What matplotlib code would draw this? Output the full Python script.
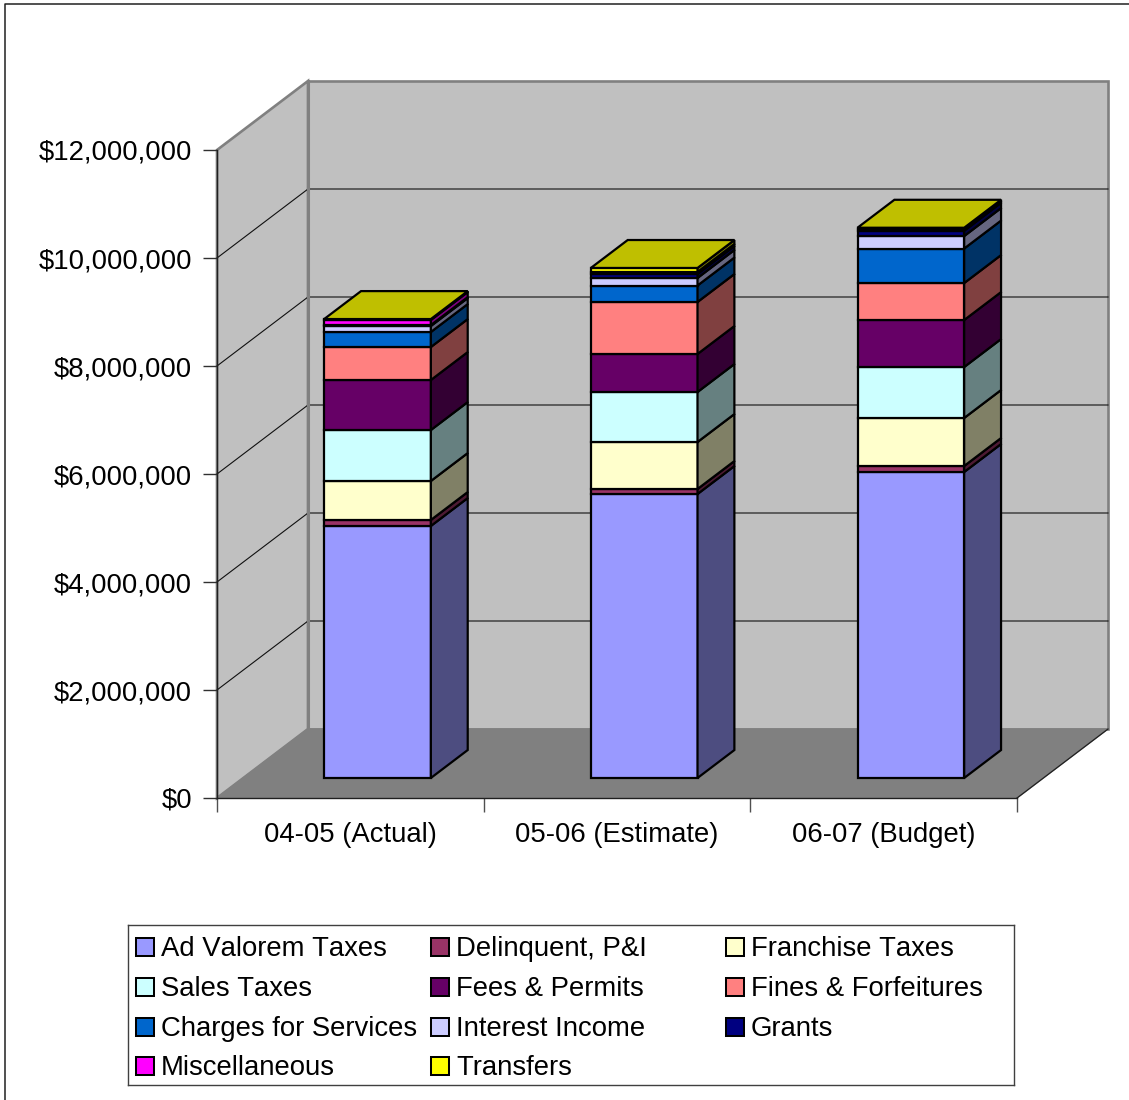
"""Stacked 3D-look revenue columns by fiscal year, with oblique walls and floor."""
import matplotlib

matplotlib.use("Agg")  # headless
import matplotlib.pyplot as plt
from matplotlib.lines import Line2D
from matplotlib.patches import Polygon, Rectangle
from matplotlib.ticker import FuncFormatter, MultipleLocator

plt.rcParams["font.family"] = ["Liberation Sans", "DejaVu Sans"]
plt.rcParams["text.kerning_factor"] = 20  # the original text is set without kerning

YEARS = ["04-05 (Actual)", "05-06 (Estimate)", "06-07 (Budget)"]
SOURCES = [
    "Ad Valorem Taxes", "Delinquent, P&I", "Franchise Taxes", "Sales Taxes",
    "Fees & Permits", "Fines & Forfeitures", "Charges for Services",
    "Interest Income", "Grants", "Miscellaneous", "Transfers",
]
COLORS = [
    "#9999FF", "#993366", "#FFFFCC", "#CCFFFF", "#660066", "#FF8080",
    "#0066CC", "#CCCCFF", "#000080", "#FF00FF", "#FFFF00",
]
# One list per year, same order as SOURCES.
ACTUAL_0405 = [4667000, 111000, 722000, 944000, 926000, 611000, 278000, 111000, 18000, 93000, 18000]
ESTIMATE_0506 = [5259000, 93000, 870000, 926000, 704000, 963000, 305000, 140000, 74000, 37000, 74000]
BUDGET_0607 = [5667000, 111000, 889000, 944000, 870000, 685000, 639000, 231000, 98000, 28000, 28000]

W, H = 1129, 1100
TEXT_SIZE = 19.8
WALL = "#C0C0C0"
FLOOR = "#808080"

# Front plane of the box in pixels; the depth axis runs up and to the right.
LEFT, RIGHT, TOP, BOTTOM = 217, 1017, 150, 798
DEPTH_X = 91 / ((RIGHT - LEFT) / 3)  # categories per full depth
DEPTH_Y = 69 / ((BOTTOM - TOP) / 12e6)  # dollars per full depth

BAR_GAP = 0.303
BAR_WIDTH = 0.4
BAR_NEAR = 0.29
BAR_FAR = 0.695


def oblique(x, value, depth):
    return x + depth * DEPTH_X, value + depth * DEPTH_Y


def shade(color, factor):
    rgb = matplotlib.colors.to_rgb(color)
    return tuple(c * factor for c in rgb)


def face(ax, corners, color, edge="black", lw=1.6, z=3):
    ax.add_patch(Polygon(corners, closed=True, facecolor=color, edgecolor=edge,
                         linewidth=lw, joinstyle="miter", clip_on=False, zorder=z))


def draw_box(ax):
    ymax = 12e6
    face(ax, [oblique(0, 0, 1), oblique(3, 0, 1), oblique(3, ymax, 1), oblique(0, ymax, 1)],
         WALL, edge=FLOOR, lw=1.9, z=1)
    face(ax, [oblique(0, 0, 0), oblique(0, 0, 1), oblique(0, ymax, 1), oblique(0, ymax, 0)],
         WALL, edge=FLOOR, lw=1.9, z=1)
    face(ax, [oblique(0, 0, 0), oblique(3, 0, 0), oblique(3, 0, 1), oblique(0, 0, 1)],
         FLOOR, edge=FLOOR, lw=1, z=1.1)
    for v in range(2000000, 12000000, 2000000):
        corner = oblique(0, v, 1)
        end = oblique(3, v, 1)
        start = oblique(0, v, 0)
        ax.add_line(Line2D([start[0], corner[0], end[0]], [start[1], corner[1], end[1]],
                           color="#101010", lw=0.8, clip_on=False, zorder=1.2))
    # the back-left corner sits over the grid lines
    xs, ys = zip(oblique(0, 0, 1), oblique(0, ymax, 1))
    ax.add_line(Line2D(xs, ys, color=FLOOR, lw=2.2, clip_on=False, zorder=1.3))
    xs, ys = zip(oblique(3, 0, 0), oblique(3, 0, 1))
    ax.add_line(Line2D(xs, ys, color="#202020", lw=0.9, clip_on=False, zorder=1.3))


def draw_column(ax, col, values):
    x0 = col + BAR_GAP
    x1 = x0 + BAR_WIDTH
    bottom = 0
    for value, color in zip(values, COLORS):
        top = bottom + value
        face(ax, [oblique(x0, bottom, BAR_NEAR), oblique(x1, bottom, BAR_NEAR),
                  oblique(x1, top, BAR_NEAR), oblique(x0, top, BAR_NEAR)], color)
        face(ax, [oblique(x1, bottom, BAR_NEAR), oblique(x1, bottom, BAR_FAR),
                  oblique(x1, top, BAR_FAR), oblique(x1, top, BAR_NEAR)], shade(color, 0.5))
        bottom = top
    face(ax, [oblique(x0, bottom, BAR_NEAR), oblique(x1, bottom, BAR_NEAR),
              oblique(x1, bottom, BAR_FAR), oblique(x0, bottom, BAR_FAR)],
         shade(COLORS[-1], 0.75))


def draw_legend(fig):
    left, right, top, bottom = 128, 1014, 925, 1085
    ax = fig.add_axes([left / W, 1 - bottom / H, (right - left) / W, (bottom - top) / H])
    ax.set_xlim(left, right)
    ax.set_ylim(bottom, top)
    ax.set_xticks([])
    ax.set_yticks([])
    for spine in ax.spines.values():
        spine.set_color("#404040")
        spine.set_linewidth(1.0)
    col_x = [136, 431, 726]
    row_y = [946, 986, 1026, 1065]
    for i, (name, color) in enumerate(zip(SOURCES, COLORS)):
        row, col = divmod(i, 3)
        ax.add_patch(Rectangle((col_x[col], row_y[row] - 8), 18, 18, facecolor=color,
                               edgecolor="black", linewidth=1.45))
        ax.text(col_x[col] + 25, row_y[row], name, fontsize=TEXT_SIZE, color="black",
                ha="left", va="center_baseline")


def main():
    fig = plt.figure(figsize=(W / 100, H / 100), dpi=100, facecolor="white")
    ax = fig.add_axes([LEFT / W, 1 - BOTTOM / H, (RIGHT - LEFT) / W, (BOTTOM - TOP) / H])
    ax.set_xlim(0, 3)
    ax.set_ylim(0, 12e6)
    ax.patch.set_visible(False)
    for name in ("top", "right"):
        ax.spines[name].set_visible(False)
    for name in ("left", "bottom"):
        ax.spines[name].set_linewidth(1.0)
        ax.spines[name].set_color("#202020")
        ax.spines[name].set_zorder(2)

    draw_box(ax)
    for col, values in enumerate([ACTUAL_0405, ESTIMATE_0506, BUDGET_0607]):
        draw_column(ax, col, values)

    ax.yaxis.set_major_locator(MultipleLocator(2000000))
    ax.yaxis.set_major_formatter(FuncFormatter(lambda v, _: f"${v:,.0f}"))
    ax.tick_params(axis="y", length=10, width=1.0, color="#303030", pad=8, labelsize=TEXT_SIZE)
    ax.yaxis.get_major_ticks()[-1].tick1line.set_color(FLOOR)

    ax.set_xticks([0, 1, 2, 3])
    ax.set_xticklabels([])
    ax.set_xticks([0.5, 1.5, 2.5], labels=YEARS, minor=True)
    ax.tick_params(axis="x", which="major", length=10, width=1.0, color="#505050")
    ax.tick_params(axis="x", which="minor", length=0, pad=17, labelsize=TEXT_SIZE)

    # chart-area frame: only the top and left edges fall inside the picture
    fig.add_artist(Line2D([5 / W, 5 / W, 1], [0, 1 - 3.5 / H, 1 - 3.5 / H], color="#202020", lw=1.1))

    draw_legend(fig)
    fig.savefig("out.png", dpi=100)
    plt.close(fig)


if __name__ == "__main__":
    main()
